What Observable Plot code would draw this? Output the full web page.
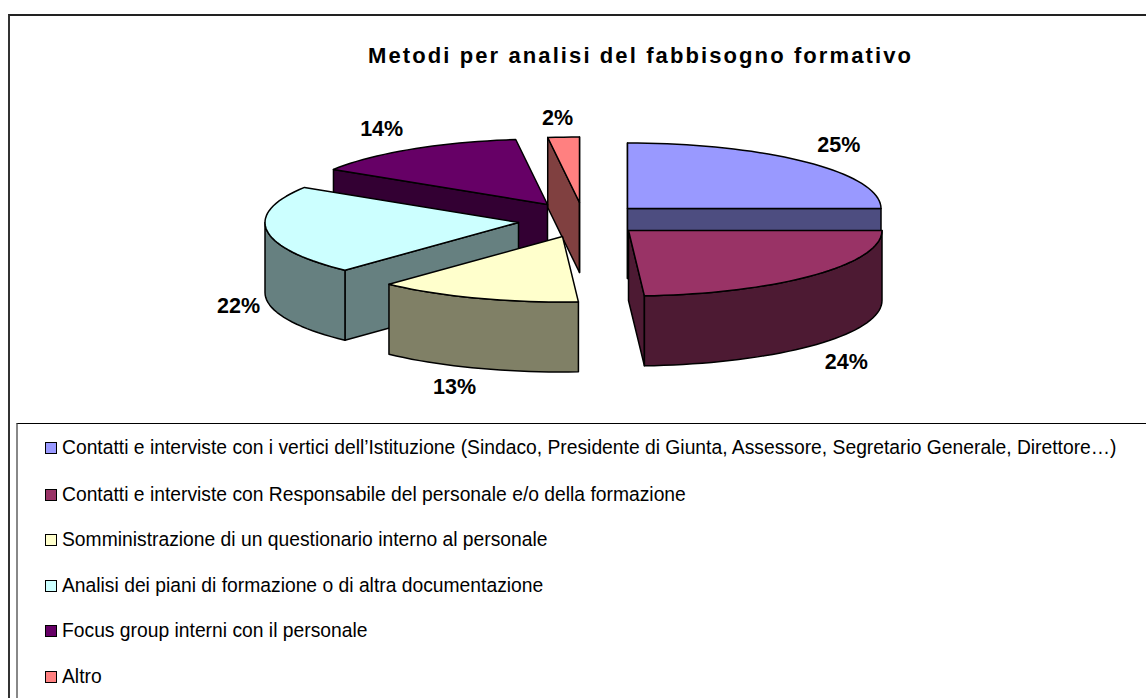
<!DOCTYPE html>
<html lang="it">
<head>
<meta charset="utf-8">
<title>Metodi per analisi del fabbisogno formativo</title>
<script src="https://cdn.jsdelivr.net/npm/d3@7"></script>
<script src="https://cdn.jsdelivr.net/npm/@observablehq/plot@0.6"></script>
<style>
  html, body { margin: 0; background: #fff; overflow: hidden; height: 698px; font-family: "Liberation Sans", Arial, sans-serif; }
  #frame { position: absolute; left: 8px; top: 14px; width: 1300px; height: 900px; border-left: 2px solid #333; border-top: 2px solid #222; box-sizing: border-box; }
  #title { position: absolute; left: 368px; top: 43px; margin: 0; font-size: 22px; font-weight: bold; letter-spacing: 2.1px; white-space: nowrap; color: #000; }
  #chart { position: absolute; left: 0; top: 0; }
  #chart svg { display: block; background: transparent; }
  #legend { position: absolute; left: 16px; top: 423px; width: 1300px; height: 400px; border-left: 2px solid #888; border-top: 1.5px solid #000; box-sizing: border-box; }
  .row { position: absolute; left: 27px; display: flex; align-items: center; height: 24px; font-size: 19.3px; color: #000; white-space: nowrap; }
  .sw { width: 10px; height: 10px; border: 1px solid #000; margin-right: 5px; flex: none; }
</style>
</head>
<body>
<div id="frame"></div>
<h1 id="title"></h1>
<div id="chart"></div>
<div id="legend"></div>
<script>
const titleText = "Metodi per analisi del fabbisogno formativo";
const categories = [
  "Contatti e interviste con i vertici dell’Istituzione (Sindaco, Presidente di Giunta, Assessore, Segretario Generale, Direttore…)",
  "Contatti e interviste con Responsabile del personale e/o della formazione",
  "Somministrazione di un questionario interno al personale",
  "Analisi dei piani di formazione o di altra documentazione",
  "Focus group interni con il personale",
  "Altro"
];
const percents = [25, 24, 13, 22, 14, 2];
const topColors = ["#9999FF", "#993366", "#FFFFCC", "#CCFFFF", "#660066", "#FF8080"];
const wallColors = ["#4D4D80", "#4D1A33", "#808066", "#668080", "#330033", "#804040"];

// Pie layout in the plot's coordinate space
const apexX = [627, 628, 562, 518, 547, 579];
const apexY = [208, 230, 236, 222, 204, 202];
const rimA = 253.5, rimB = 65.5, depth = 70;
const drawOrder = [5, 4, 3, 2, 0, 1];
const labelDx = [32, 33, -22, -28.5, -30, -6];
const labelDy = [-17, 17, 19, 5, -20, -19];

const TAU = 2 * Math.PI;
const rim = (i, f) => [apexX[i] + rimA * Math.sin(f * TAU), apexY[i] - rimB * Math.cos(f * TAU)];

const starts = percents.map((_, i) => d3.sum(percents.slice(0, i)) / 100);
const ends = percents.map((p, i) => starts[i] + p / 100);

const polys = [];
let id = 0;
function add(points, fill) {
  id++;
  for (const [x, y] of points) polys.push({x, y, z: id, fill});
}
function arc(i, f0, f1) {
  const n = Math.max(2, Math.ceil((f1 - f0) * 160));
  return d3.range(n + 1).map(k => rim(i, f0 + (f1 - f0) * k / n));
}
for (const i of drawOrder) {
  const s = starts[i], e = ends[i], apex = [apexX[i], apexY[i]];
  const extrude = pts => [...pts, ...pts.slice().reverse().map(([x, y]) => [x, y + depth])];
  // cut faces turned towards the viewer
  if (Math.sin(s * TAU) <= 1e-9) add(extrude([apex, rim(i, s)]), wallColors[i]);
  if (-Math.sin(e * TAU) <= 1e-9 || e >= 1) add(extrude([apex, rim(i, e)]), wallColors[i]);
  // outer wall on the front half of the ellipse
  const a0 = Math.max(s, 0.25), a1 = Math.min(e, 0.75);
  if (a1 > a0) add(extrude(arc(i, a0, a1)), wallColors[i]);
  // top face
  add([apex, ...arc(i, s, e)], topColors[i]);
}

const labels = percents.map((p, i) => {
  const m = (starts[i] + ends[i]) / 2;
  const [x, y] = rim(i, m);
  return {text: p + "%", x: x + labelDx[i], y: y + labelDy[i] + (Math.cos(m * TAU) < 0 ? depth : 0)};
});

document.getElementById("title").textContent = titleText;

const plot = Plot.plot({
  width: 1146, height: 424,
  margin: 0,
  x: {domain: [0, 1146], range: [0, 1146], axis: null},
  y: {domain: [0, 424], range: [0, 424], axis: null},
  color: {type: "identity"},
  style: {background: "transparent"},
  marks: [
    Plot.line(polys, {x: "x", y: "y", z: "z", fill: "fill", stroke: "#000", strokeWidth: 1.5, curve: "linear-closed", strokeLinejoin: "round"}),
    Plot.text(labels, {x: "x", y: "y", text: "text", fontSize: 21.5, fontWeight: "bold", fontFamily: "Liberation Sans, Arial, sans-serif", fill: "#000"})
  ]
});
document.getElementById("chart").appendChild(plot);

const legend = document.getElementById("legend");
const rowTop = [12, 59, 104, 150, 195, 241];
categories.forEach((c, i) => {
  const r = document.createElement("div");
  r.className = "row";
  r.style.top = rowTop[i] + "px";
  const sw = document.createElement("span");
  sw.className = "sw";
  sw.style.background = topColors[i];
  r.appendChild(sw);
  r.appendChild(document.createTextNode(c));
  legend.appendChild(r);
});
</script>
</body>
</html>
